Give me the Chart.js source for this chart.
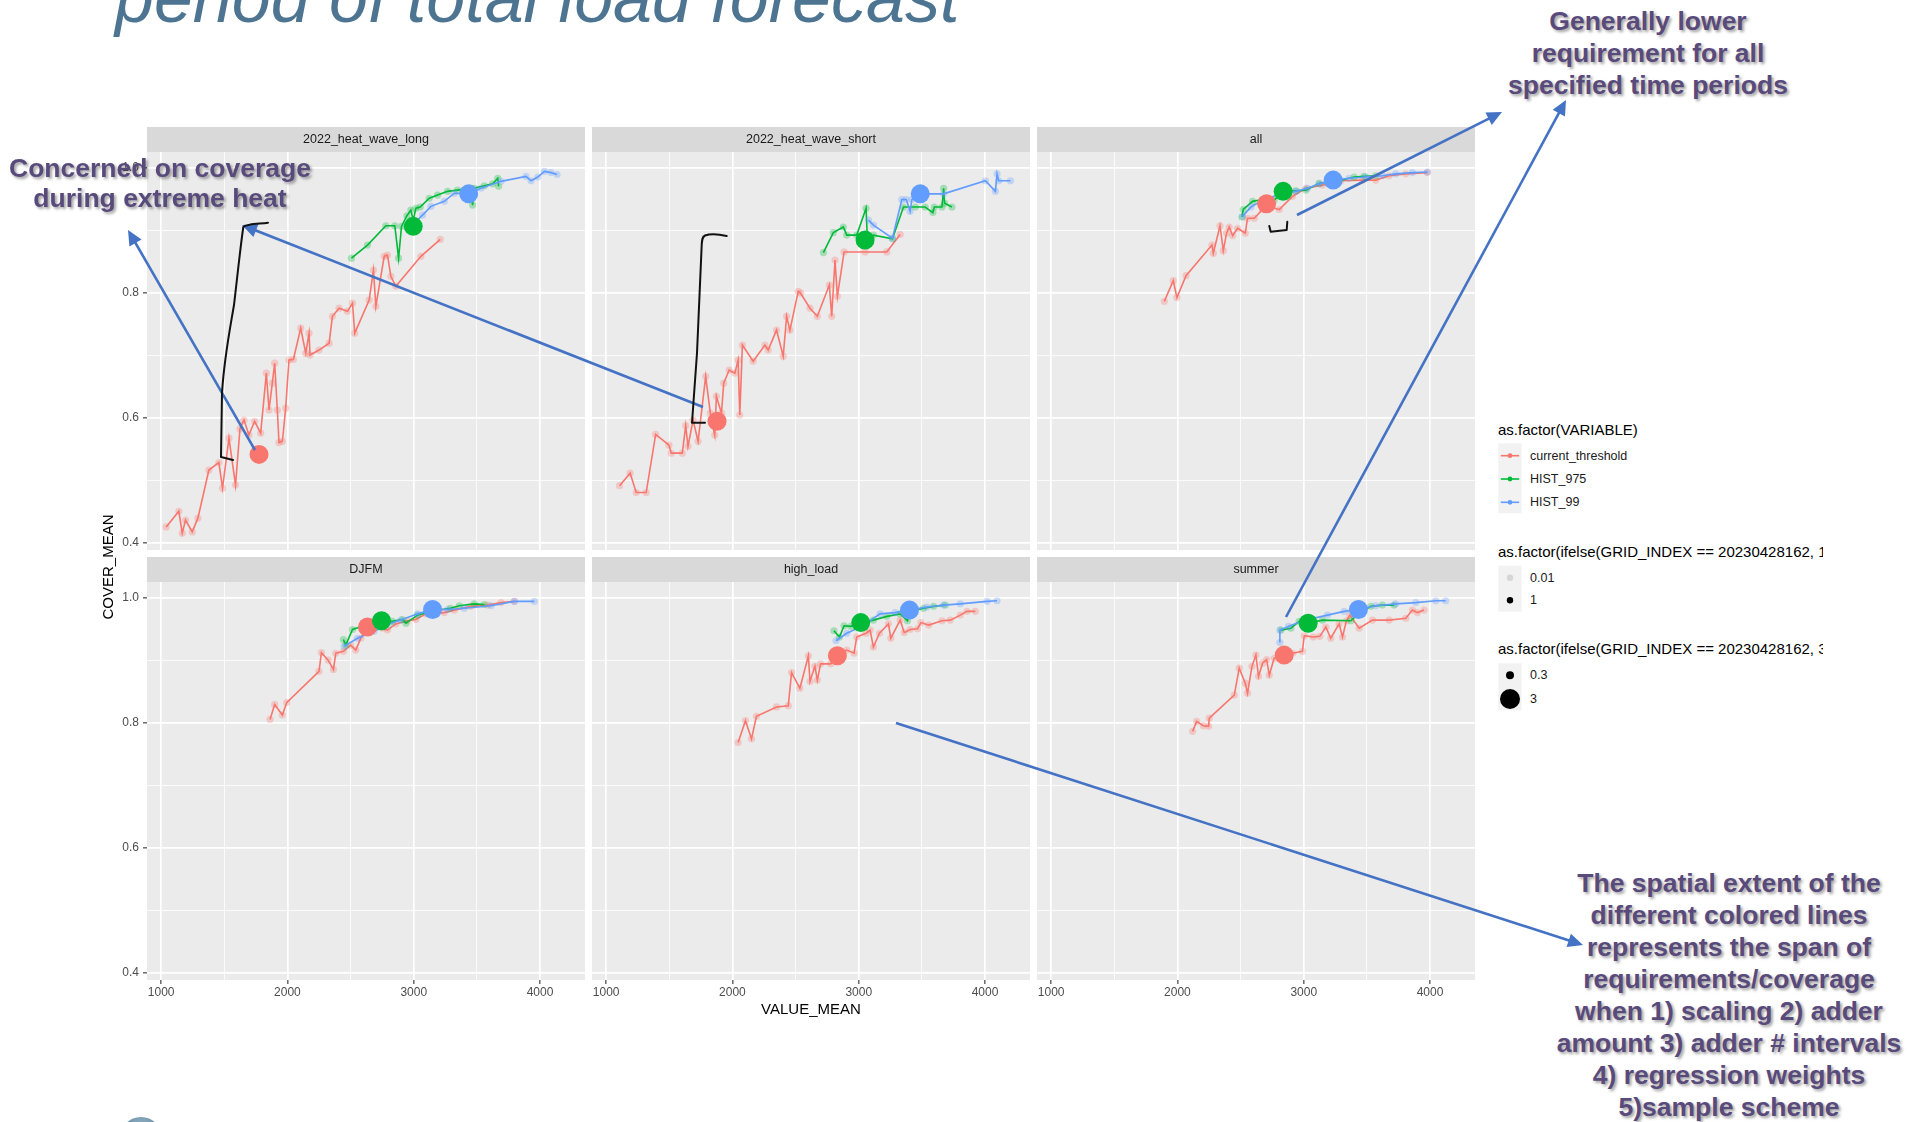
<!DOCTYPE html>
<html>
<head>
<meta charset="utf-8">
<title>Coverage vs. requirement by time period</title>
<script src="https://cdn.jsdelivr.net/npm/chart.js@4.4.0/dist/chart.umd.min.js"></script>
<style>
  html, body { margin: 0; padding: 0; background: #fff; }
  body { width: 1907px; height: 1122px; position: relative; overflow: hidden;
         font-family: 'Liberation Sans', Arial, Helvetica, sans-serif; }
  canvas { position: absolute; z-index: 1; filter: blur(0.4px); }
  .strip { position: absolute; z-index: 2; height: 25px; line-height: 25px; background: #d9d9d9;
           color: #1a1a1a; font-size: 12.5px; text-align: center; filter: blur(0.3px); }
  .note { position: absolute; z-index: 4; font-weight: bold; font-size: 26.5px; color: #594a7c;
          text-align: center; white-space: nowrap; text-shadow: 2px 2px 3px rgba(0,0,0,0.38); }
  .leg { position: absolute; z-index: 3; white-space: nowrap; color: #1a1a1a; }
  .legTitle { font-size: 15px; line-height: 18px; color: #000; overflow: hidden; }
  .legLabel { font-size: 12.5px; line-height: 16px; }
  #title { position: absolute; left: 115px; top: -37px; font-style: italic; font-size: 70px;
           line-height: 70px; color: #4d7592; white-space: nowrap; z-index: 3; }
  #ytitle { position: absolute; z-index: 3; left: 8px; top: 558px; width: 200px; height: 18px;
            line-height: 18px; font-size: 15px; text-align: center; color: #000;
            transform: rotate(-90deg); }
  #logo { position: absolute; left: 120px; top: 1117px; width: 42px; height: 42px; border-radius: 50%;
          background: radial-gradient(circle at 50% 30%, #9bb7c9, #3f6d8a); }
  svg { position: absolute; left: 0; top: 0; z-index: 5; }
</style>
</head>
<body>
<div id="title">period of total load forecast</div>
<div id="ytitle">COVER_MEAN</div>
<div id="logo"></div>

<script>
// ---- facet and series definitions ----
const PANEL_NAMES = ['2022_heat_wave_long', '2022_heat_wave_short', 'all', 'DJFM', 'high_load', 'summer'];
const SERIES_NAMES = ['current_threshold', 'HIST_975', 'HIST_99'];
const SERIES_COLORS = ['#F8766D', '#00BA38', '#619CFF'];

// axis ticks (major ticks get labels, minor ticks only a thin grid line)
const X_MAJOR = [1000, 2000, 3000, 4000];
const X_MINOR = [1500, 2500, 3500];
const Y_MAJOR = [0.4, 0.6, 0.8, 1.0];
const Y_MINOR = [0.5, 0.7, 0.9];
const X_RANGE = [888, 4356];
const Y_RANGE = [0.388, 1.025];

// second and third legends
const ALPHA_LEVELS = ['0.01', '1'];
const SIZE_LEVELS = ['0.3', '3'];

// ---- VALUE_MEAN / COVER_MEAN pairs per facet ----
const heatLongCurrent = [[1040,0.425],[1140,0.450],[1167,0.415],[1193,0.436],[1246,0.417],[1291,0.439],[1378,0.516],[1457,0.528],[1486,0.487],[1537,0.567],[1589,0.492],[1624,0.582],[1656,0.596],[1695,0.572],[1740,0.594],[1788,0.575],[1833,0.671],[1854,0.612],[1880,0.655],[1899,0.687],[1920,0.612],[1933,0.560],[1960,0.562],[1986,0.615],[2012,0.692],[2047,0.693],[2105,0.743],[2145,0.703],[2171,0.735],[2179,0.700],[2250,0.708],[2330,0.719],[2356,0.762],[2409,0.775],[2475,0.770],[2515,0.783],[2533,0.735],[2647,0.788],[2681,0.836],[2700,0.778],[2766,0.858],[2792,0.860],[2819,0.826],[2858,0.810],[3057,0.858],[3210,0.885]];
const heatLongHist975 = [[2507,0.855],[2634,0.876],[2779,0.907],[2850,0.907],[2880,0.855],[2903,0.906],[2946,0.923],[2977,0.932],[2996,0.916],[3017,0.935],[3051,0.937],[3123,0.951],[3189,0.956],[3268,0.962],[3347,0.964],[3453,0.967],[3466,0.940],[3479,0.967],[3559,0.971],[3625,0.974],[3665,0.983],[3672,0.970]];
const heatLongHist99 = [[3017,0.914],[3070,0.924],[3136,0.938],[3242,0.946],[3321,0.959],[3435,0.958],[3532,0.967],[3691,0.978],[3889,0.986],[3929,0.979],[3982,0.985],[4035,0.994],[4087,0.992],[4135,0.989]];
const heatLongMarked = [[1775,0.541],[2996,0.906],[3435,0.958]];

const heatShortCurrent = [[1106,0.491],[1190,0.511],[1238,0.480],[1317,0.480],[1392,0.573],[1497,0.556],[1516,0.543],[1603,0.543],[1630,0.587],[1648,0.554],[1688,0.596],[1728,0.562],[1788,0.666],[1825,0.607],[1860,0.572],[1873,0.634],[1913,0.607],[1931,0.655],[1974,0.676],[2019,0.671],[2045,0.692],[2058,0.604],[2079,0.716],[2164,0.690],[2257,0.716],[2283,0.708],[2349,0.740],[2402,0.698],[2429,0.762],[2455,0.740],[2521,0.802],[2540,0.799],[2614,0.775],[2672,0.762],[2767,0.812],[2786,0.762],[2812,0.852],[2831,0.794],[2884,0.865],[3050,0.865],[3222,0.865],[3328,0.893]];
const heatShortHist975 = [[2720,0.864],[2799,0.896],[2878,0.905],[2905,0.892],[2984,0.892],[3058,0.935],[3069,0.884],[3116,0.892],[3267,0.886],[3354,0.937],[3447,0.937],[3526,0.937],[3587,0.928],[3598,0.937],[3659,0.937],[3672,0.967],[3680,0.943],[3738,0.937]];
const heatShortHist99 = [[3077,0.916],[3116,0.908],[3267,0.887],[3341,0.949],[3376,0.949],[3407,0.930],[3421,0.949],[3487,0.958],[3672,0.958],[4003,0.979],[4082,0.962],[4095,0.990],[4108,0.979],[4201,0.979]];
const heatShortMarked = [[1878,0.594],[3050,0.884],[3487,0.958]];

const allCurrent = [[1896,0.786],[1967,0.819],[1996,0.792],[2068,0.827],[2273,0.876],[2284,0.863],[2337,0.907],[2363,0.867],[2389,0.895],[2410,0.905],[2437,0.891],[2476,0.903],[2537,0.895],[2555,0.919],[2608,0.919],[2674,0.933],[2740,0.937],[2806,0.933],[2911,0.954],[3017,0.967],[3148,0.972],[3293,0.979],[3465,0.980],[3570,0.980],[3676,0.987],[3808,0.990],[3979,0.992]];
const allHist975 = [[2511,0.921],[2521,0.933],[2595,0.946],[2674,0.949],[2766,0.948],[2837,0.962],[2938,0.963],[3017,0.964],[3122,0.975],[3280,0.979],[3399,0.985],[3478,0.986],[3570,0.987]];
const allHist99 = [[2516,0.922],[2582,0.937],[2674,0.948],[2832,0.959],[2938,0.962],[3030,0.967],[3122,0.974],[3233,0.980],[3359,0.983],[3491,0.985],[3623,0.987],[3728,0.990],[3860,0.992],[3979,0.993]];
const allMarked = [[2706,0.942],[2837,0.962],[3233,0.980]];

const djfmCurrent = [[1862,0.805],[1899,0.829],[1960,0.812],[1994,0.832],[2250,0.882],[2269,0.912],[2322,0.900],[2364,0.885],[2383,0.911],[2443,0.914],[2501,0.924],[2541,0.916],[2581,0.935],[2634,0.953],[2686,0.955],[2753,0.951],[2792,0.948],[2858,0.958],[2951,0.963],[3017,0.965],[3096,0.974],[3242,0.976],[3321,0.980],[3453,0.986],[3585,0.988],[3691,0.992],[3797,0.994]];
const djfmHist975 = [[2443,0.933],[2462,0.924],[2515,0.949],[2607,0.955],[2745,0.963],[2832,0.962],[2911,0.965],[2938,0.959],[3030,0.972],[3162,0.979],[3289,0.983],[3361,0.987],[3480,0.990],[3559,0.989]];
const djfmHist99 = [[2449,0.922],[2554,0.935],[2686,0.946],[2805,0.958],[2898,0.964],[3030,0.974],[3149,0.981],[3268,0.981],[3400,0.983],[3612,0.987],[3797,0.994],[3955,0.994]];
const djfmMarked = [[2634,0.953],[2745,0.963],[3149,0.981]];

const highLoadCurrent = [[2045,0.768],[2103,0.803],[2151,0.774],[2190,0.810],[2349,0.825],[2442,0.827],[2468,0.880],[2534,0.855],[2601,0.907],[2614,0.866],[2653,0.890],[2672,0.868],[2698,0.894],[2778,0.894],[2831,0.907],[2905,0.916],[2963,0.911],[2984,0.937],[3058,0.943],[3090,0.948],[3116,0.921],[3164,0.943],[3235,0.958],[3254,0.935],[3328,0.964],[3360,0.944],[3407,0.949],[3466,0.950],[3492,0.960],[3553,0.956],[3659,0.963],[3725,0.964],[3804,0.972],[3857,0.978],[3923,0.978]];
const highLoadHist975 = [[2804,0.947],[2847,0.937],[2884,0.955],[2937,0.954],[3016,0.960],[3116,0.964],[3222,0.970],[3328,0.974],[3386,0.963],[3407,0.978],[3513,0.983],[3593,0.986],[3685,0.988]];
const highLoadHist99 = [[2820,0.931],[2905,0.943],[3024,0.954],[3169,0.974],[3288,0.976],[3402,0.980],[3540,0.985],[3672,0.988],[3804,0.990],[4016,0.994],[4095,0.995]];
const highLoadMarked = [[2831,0.907],[3016,0.960],[3402,0.980]];

const summerCurrent = [[2120,0.786],[2152,0.802],[2205,0.795],[2247,0.794],[2252,0.807],[2450,0.844],[2489,0.887],[2537,0.863],[2555,0.847],[2590,0.890],[2621,0.908],[2642,0.874],[2674,0.895],[2706,0.901],[2727,0.876],[2766,0.903],[2845,0.908],[2911,0.911],[2990,0.914],[3004,0.939],[3075,0.937],[3127,0.938],[3175,0.953],[3214,0.935],[3280,0.958],[3307,0.937],[3338,0.963],[3365,0.972],[3439,0.951],[3544,0.964],[3676,0.964],[3808,0.967],[3860,0.980],[3900,0.976],[3953,0.980]];
const summerHist975 = [[2819,0.948],[2898,0.951],[2964,0.962],[3035,0.959],[3148,0.964],[3373,0.963],[3439,0.975],[3531,0.986],[3623,0.988],[3715,0.988]];
const summerHist99 = [[2811,0.928],[2811,0.948],[2880,0.954],[2990,0.963],[3188,0.972],[3320,0.978],[3433,0.981],[3570,0.987],[3728,0.990],[3887,0.992],[4045,0.995],[4124,0.995]];
const summerMarked = [[2845,0.908],[3035,0.959],[3433,0.981]];

const PANEL_SERIES = [
  [heatLongCurrent, heatLongHist975, heatLongHist99],
  [heatShortCurrent, heatShortHist975, heatShortHist99],
  [allCurrent, allHist975, allHist99],
  [djfmCurrent, djfmHist975, djfmHist99],
  [highLoadCurrent, highLoadHist975, highLoadHist99],
  [summerCurrent, summerHist975, summerHist99]
];
const PANEL_MARKED = [heatLongMarked, heatShortMarked, allMarked, djfmMarked, highLoadMarked, summerMarked];

// ---- page layout ----
const COL_LEFT = [147, 592, 1037];
const ROW_TOP = [127, 557];
const PANEL_W = 438, PANEL_H = 398, STRIP_H = 25;
const PAD = 16, Y_AXIS_W = 45, X_AXIS_H = 40;

Chart.defaults.font.family = "'Liberation Sans', Arial, Helvetica, sans-serif";
Chart.defaults.color = '#4d4d4d';

function rgba(hex, a) {
  const n = parseInt(hex.slice(1), 16);
  return `rgba(${(n >> 16) & 255},${(n >> 8) & 255},${n & 255},${a})`;
}

// grey panel background behind the grid
const panelBackground = {
  id: 'panelBackground',
  beforeDraw(chart) {
    const a = chart.chartArea, c = chart.ctx;
    c.save();
    c.fillStyle = '#ebebeb';
    c.fillRect(a.left, a.top, a.right - a.left, a.bottom - a.top);
    c.restore();
  }
};

function axisGrid(major, showTicks) {
  const isMajor = ctx => ctx.tick && major.includes(ctx.tick.value);
  return {
    color: '#ffffff',
    lineWidth: ctx => isMajor(ctx) ? 1.7 : 0.8,
    drawTicks: showTicks,
    tickLength: 4,
    tickWidth: 1.1,
    tickColor: ctx => isMajor(ctx) ? '#333333' : 'rgba(0,0,0,0)'
  };
}

PANEL_NAMES.forEach((name, i) => {
  const row = Math.floor(i / 3), col = i % 3;
  const left = COL_LEFT[col], top = ROW_TOP[row];
  const showY = col === 0, showX = row === 1;

  const strip = document.createElement('div');
  strip.className = 'strip';
  strip.style.left = left + 'px';
  strip.style.top = top + 'px';
  strip.style.width = PANEL_W + 'px';
  strip.textContent = name;
  document.body.appendChild(strip);

  const yw = showY ? Y_AXIS_W : 0, xh = showX ? X_AXIS_H : 0;
  const cv = document.createElement('canvas');
  cv.width = PANEL_W + 2 * PAD + yw;
  cv.height = PANEL_H + 2 * PAD + xh;
  cv.style.left = (left - PAD - yw) + 'px';
  cv.style.top = (top + STRIP_H - PAD) + 'px';
  document.body.appendChild(cv);

  const datasets = [];
  PANEL_SERIES[i].forEach((pts, s) => {
    datasets.push({
      label: SERIES_NAMES[s],
      data: pts.map(([x, y]) => ({ x, y })),
      showLine: true,
      borderColor: SERIES_COLORS[s],
      borderWidth: 1.6,
      pointRadius: 3.6,
      pointBackgroundColor: rgba(SERIES_COLORS[s], 0.3),
      pointBorderWidth: 0,
      pointBorderColor: 'rgba(0,0,0,0)',
      order: 12 - s
    });
  });
  PANEL_MARKED[i].forEach(([x, y], s) => {
    datasets.push({
      label: SERIES_NAMES[s] + ' (marked)',
      data: [{ x, y }],
      showLine: false,
      pointRadius: 9.5,
      pointBackgroundColor: SERIES_COLORS[s],
      pointBorderWidth: 0,
      order: 5 - s
    });
  });

  new Chart(cv, {
    type: 'scatter',
    data: { datasets },
    options: {
      responsive: false,
      animation: false,
      devicePixelRatio: 1,
      events: [],
      layout: { padding: PAD },
      plugins: { legend: { display: false }, tooltip: { enabled: false } },
      scales: {
        x: {
          type: 'linear', min: X_RANGE[0], max: X_RANGE[1],
          afterBuildTicks: sc => { sc.ticks = [...X_MAJOR, ...X_MINOR].sort((a, b) => a - b).map(v => ({ value: v })); },
          afterFit: sc => { sc.height = xh; },
          border: { display: false },
          grid: axisGrid(X_MAJOR, showX),
          ticks: {
            display: showX, autoSkip: false, maxRotation: 0, padding: 1,
            font: { size: 12 }, color: '#4d4d4d',
            callback: v => X_MAJOR.includes(v) ? String(v) : ''
          },
          title: {
            display: i === 4, text: 'VALUE_MEAN', color: '#000000',
            font: { size: 15 }, padding: { top: 0, bottom: 1 }
          }
        },
        y: {
          type: 'linear', min: Y_RANGE[0], max: Y_RANGE[1],
          afterBuildTicks: sc => { sc.ticks = [...Y_MAJOR, ...Y_MINOR].sort((a, b) => a - b).map(v => ({ value: v })); },
          afterFit: sc => { sc.width = yw; },
          border: { display: false },
          grid: axisGrid(Y_MAJOR, showY),
          ticks: {
            display: showY, autoSkip: false, padding: 4,
            font: { size: 12 }, color: '#4d4d4d',
            callback: v => Y_MAJOR.includes(v) ? v.toFixed(1) : ''
          }
        }
      }
    },
    plugins: [panelBackground]
  });
});

// ---- legends (colour, alpha, size) ----
function addDiv(cls, text, left, top, extra) {
  const d = document.createElement('div');
  d.className = cls;
  d.textContent = text;
  d.style.left = left + 'px';
  d.style.top = top + 'px';
  if (extra) Object.assign(d.style, extra);
  document.body.appendChild(d);
  return d;
}
addDiv('leg legTitle', 'as.factor(VARIABLE)', 1498, 421);
SERIES_NAMES.forEach((n, k) => addDiv('leg legLabel', n, 1530, 447.7 + k * 23.3));
addDiv('leg legTitle', 'as.factor(ifelse(GRID_INDEX == 20230428162, 1, 0.01))', 1498, 542.7, { width: '325px' });
ALPHA_LEVELS.forEach((n, k) => addDiv('leg legLabel', n, 1530, 569.7 + k * 22.6));
addDiv('leg legTitle', 'as.factor(ifelse(GRID_INDEX == 20230428162, 3, 0.3))', 1498, 640.3, { width: '325px' });
SIZE_LEVELS.forEach((n, k) => addDiv('leg legLabel', n, 1530, 667.3 + k * 23.7));

// ---- notes ----
addDiv('note', 'Concerned on coverage', 0, 152.5, { width: '320px', lineHeight: '30px' });
addDiv('note', 'during extreme heat', 0, 182.5, { width: '320px', lineHeight: '30px' });
['Generally lower', 'requirement for all', 'specified time periods'].forEach((t, k) =>
  addDiv('note', t, 1448, 4.8 + k * 32, { width: '400px', lineHeight: '32px' }));
['The spatial extent of the', 'different colored lines', 'represents the span of', 'requirements/coverage',
 'when 1) scaling 2) adder', 'amount 3) adder # intervals', '4) regression weights', '5)sample scheme']
  .forEach((t, k) => addDiv('note', t, 1529, 867 + k * 32, { width: '400px', lineHeight: '32px' }));

// ---- overlay: legend keys, pointer arrows, hand-drawn brackets ----
const NS = 'http://www.w3.org/2000/svg';
const svg = document.createElementNS(NS, 'svg');
svg.setAttribute('width', 1907);
svg.setAttribute('height', 1122);
document.body.appendChild(svg);
function el(tag, attrs) {
  const e = document.createElementNS(NS, tag);
  for (const k in attrs) e.setAttribute(k, attrs[k]);
  svg.appendChild(e);
  return e;
}
// legend key backgrounds
el('rect', { x: 1498.3, y: 443.3, width: 23.3, height: 70, fill: '#f2f2f2' });
el('rect', { x: 1498.3, y: 565.7, width: 23.3, height: 46, fill: '#f2f2f2' });
el('rect', { x: 1498.3, y: 663.3, width: 23.3, height: 47, fill: '#f2f2f2' });
SERIES_COLORS.forEach((c, k) => {
  const y = 455.7 + k * 23.3;
  el('line', { x1: 1500.8, y1: y, x2: 1519.2, y2: y, stroke: c, 'stroke-width': 1.6 });
  el('circle', { cx: 1510, cy: y, r: 2.4, fill: c });
});
el('circle', { cx: 1510, cy: 577.7, r: 3.2, fill: '#d6d6d6' });
el('circle', { cx: 1510, cy: 600.3, r: 3.2, fill: '#000' });
el('circle', { cx: 1510, cy: 675.3, r: 4, fill: '#000' });
el('circle', { cx: 1510, cy: 699, r: 10, fill: '#000' });

// pointer arrows: [startX, startY, tipX, tipY]
const ARROWS = [[255, 450, 128, 230], [703, 407, 242, 225], [1297, 215, 1502, 112],
                [1286, 617, 1566, 100], [896, 723, 1583, 945]];
ARROWS.forEach(([x0, y0, x1, y1]) => {
  const dx = x1 - x0, dy = y1 - y0, L = Math.hypot(dx, dy), ux = dx / L, uy = dy / L;
  const hl = 15, hw = 7;
  const bx = x1 - ux * hl, by = y1 - uy * hl;
  el('line', { x1: x0, y1: y0, x2: bx + ux * 2, y2: by + uy * 2, stroke: '#4472c4', 'stroke-width': 2.6 });
  el('polygon', { points: `${x1},${y1} ${bx - uy * hw},${by + ux * hw} ${bx + uy * hw},${by - ux * hw}`, fill: '#4472c4' });
});

// hand-drawn brackets
const BRACKETS = [
  'M268,222.7 C258,224 248,223.5 243.3,227 C240,250 237,280 234,305 C228,340 224,360 222,393 L221,457 L233,460',
  'M726.7,236 C718,234 710,233.8 705,235.5 C702,237 702,240 701.7,245 L697,353 L692,422.7 L705,422.7',
  'M1269.3,226 L1270.7,231.7 L1286.7,230 L1287.3,221.7'
];
BRACKETS.forEach(d => el('path', { d, fill: 'none', stroke: '#111', 'stroke-width': 2, 'stroke-linejoin': 'round', 'stroke-linecap': 'round' }));
</script>
</body>
</html>
